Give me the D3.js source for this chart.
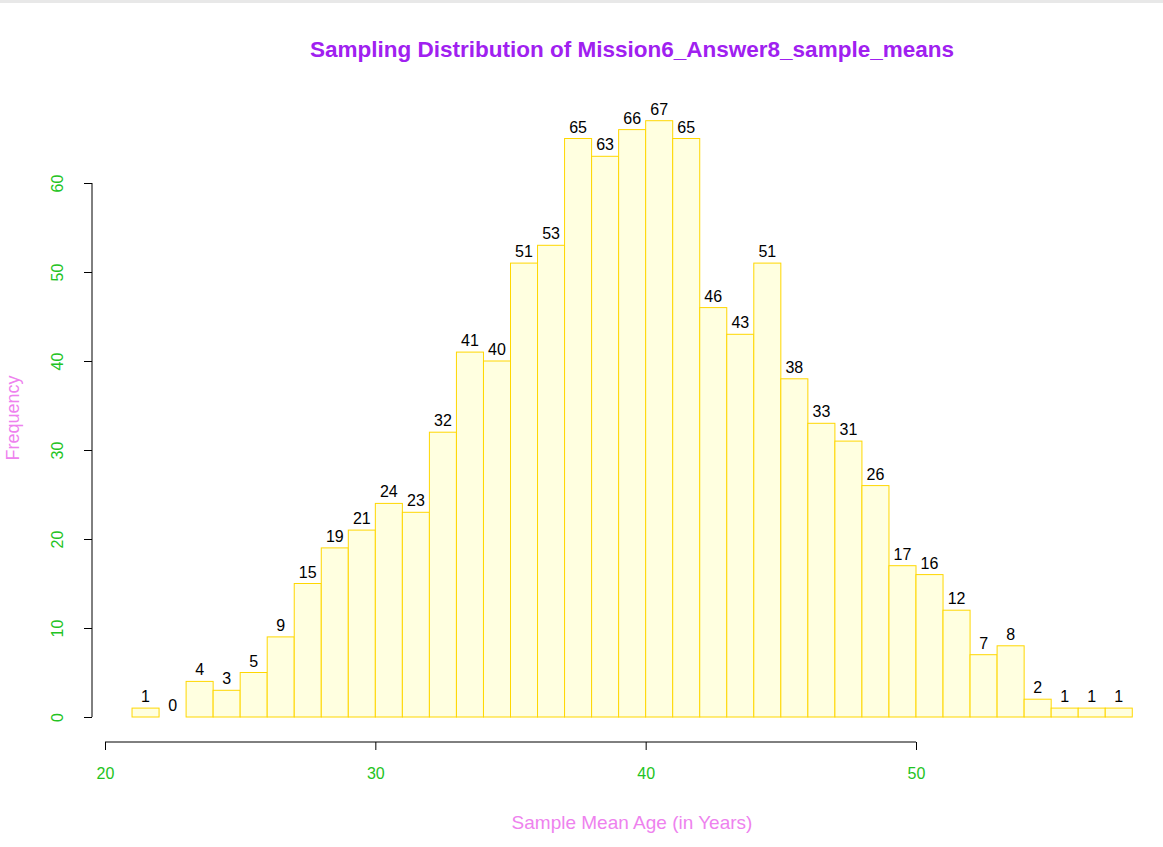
<!DOCTYPE html>
<html><head><meta charset="utf-8">
<script src="https://cdn.jsdelivr.net/npm/d3@7"></script>
<style>body{margin:0;background:#fff}svg{font-family:"Liberation Sans",Arial,sans-serif}</style>
</head><body><svg width="1163" height="847"></svg>
<script>
const binStart = 21, binWidth = 1;
const counts = [1,0,4,3,5,9,15,19,21,24,23,32,41,40,51,53,65,63,66,67,65,46,43,51,38,33,31,26,17,16,12,7,8,2,1,1,1];
const xTicks = [20,30,40,50];
const yTicks = [0,10,20,30,40,50,60];
const svg = d3.select("svg");
svg.append("rect").attr("width",1163).attr("height",3).attr("fill","#e8e8e8");
const x = d3.scaleLinear().domain([20,50]).range([105,916]);
const y = d3.scaleLinear().domain([0,60]).range([717,183]);
svg.selectAll("rect.bar").data(counts).enter().append("rect").attr("class","bar")
 .attr("x",(d,i)=>x(binStart+i*binWidth)).attr("width",x(binWidth)-x(0))
 .attr("y",d=>y(d)).attr("height",d=>y(0)-y(d))
 .attr("fill","#ffffe0").attr("stroke","#ffd700").attr("stroke-width",1);
svg.selectAll("text.lab").data(counts).enter().append("text")
 .attr("x",(d,i)=>x(binStart+(i+0.5)*binWidth)).attr("y",d=>y(d)-6)
 .attr("text-anchor","middle").attr("font-size",16).attr("fill","#000").text(d=>d);
const xa = svg.append("g").attr("transform","translate(0,742)")
 .call(d3.axisBottom(x).tickValues(xTicks).tickSize(8).tickPadding(18));
const ya = svg.append("g").attr("transform","translate(92,0)")
 .call(d3.axisLeft(y).tickValues(yTicks).tickSize(8).tickPadding(18));
[xa,ya].forEach(a=>{a.selectAll("path,line").attr("stroke","#000");a.selectAll("text").attr("fill","#22c322").attr("font-size",16).attr("font-family","Liberation Sans, Arial");});
xa.select("path").attr("d",`M${x(20)},0H${x(50)}`);
ya.select("path").attr("d",`M0,${y(0)}V${y(60)}`);
ya.selectAll("text").attr("transform","rotate(-90)")
 .attr("x",0).attr("y",-35).attr("dy","0.35em").attr("text-anchor","middle");
svg.append("text").attr("x",632).attr("y",57).attr("text-anchor","middle").attr("font-size",22.5).attr("font-weight","bold").attr("fill","#a020f0").text("Sampling Distribution of Mission6_Answer8_sample_means");
svg.append("text").attr("x",632).attr("y",829).attr("text-anchor","middle").attr("font-size",19).attr("fill","#ee82ee").text("Sample Mean Age (in Years)");
svg.append("text").attr("transform","translate(19,418) rotate(-90)").attr("text-anchor","middle").attr("font-size",18).attr("fill","#ee82ee").text("Frequency");
</script></body></html>
